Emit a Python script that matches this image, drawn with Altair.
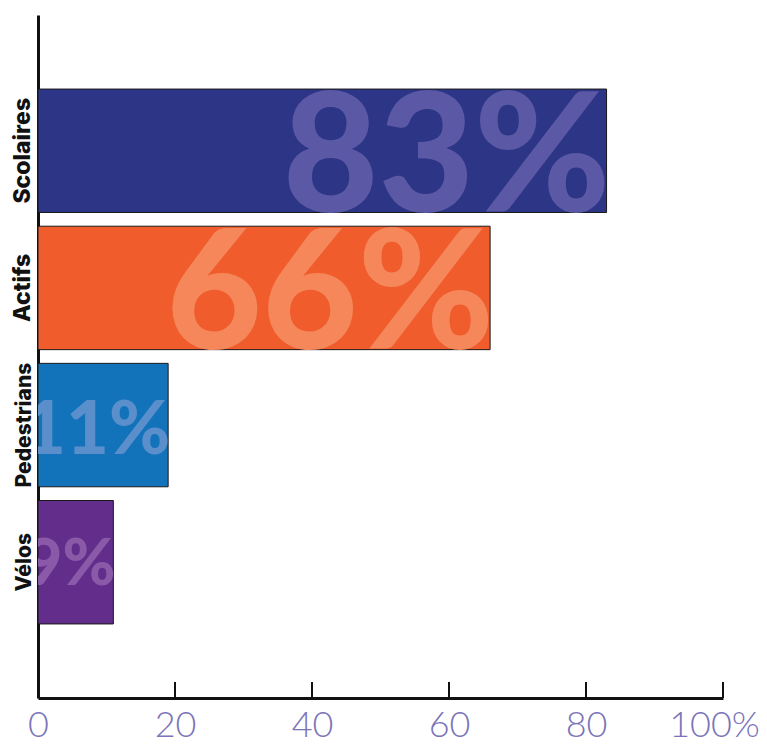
import altair as alt
import pandas as pd

categories = ["Scolaires", "Actifs", "Pedestrians", "Vélos"]
values = [83, 66, 19, 11]
labels = ["83%", "66%", "11%", "9%"]
colors = ["#2d3586", "#f05c2c", "#1273bb", "#632d8b"]
text_colors = ["#5b59a5", "#f5875a", "#5b8fcc", "#8a5aa8"]
ticks = [0, 20, 40, 60, 80, 100]

df = pd.DataFrame({"cat": categories, "v": values, "lab": labels})
tick_df = pd.DataFrame({"t": ticks[1:]})

W, H = 685, 683

x_scale = alt.Scale(domain=[0, 100], nice=False, zero=True)
y_scale = alt.Scale(domain=categories, paddingInner=0.1, paddingOuter=0.54)

bars = alt.Chart(df).mark_bar(stroke="#1a1a1a", strokeWidth=1).encode(
    x=alt.X("v:Q", scale=x_scale,
            axis=alt.Axis(values=ticks, title=None, grid=False, ticks=False,
                          domainColor="#111", domainWidth=3,
                          labelExpr="datum.value == 100 ? '100%' : datum.label",
                          labelFont="Lato", labelFontWeight=300, labelFontSize=36,
                          labelColor="#7b74b8", labelPadding=10, labelFlush=False,
                          labelOffset=alt.ExprRef(expr="datum.value == 100 ? -9 : 0"))),
    y=alt.Y("cat:N", scale=y_scale, sort=categories,
            axis=alt.Axis(title=None, ticks=False, domainColor="#111", domainWidth=3,
                          labelAngle=-90, labelAlign="center", labelBaseline="bottom",
                          labelFont="Inter", labelFontWeight=800, labelColor="#111",
                          labelFontSize=alt.ExprRef(expr="datum.value == 'Pedestrians' ? 21 : datum.value == 'Vélos' ? 21 : 23"),
                          labelPadding=4)),
    color=alt.Color("cat:N", scale=alt.Scale(domain=categories, range=colors), legend=None),
)

text = alt.Chart(df).mark_text(
    align="right", baseline="alphabetic", font="Lato", fontWeight=900,
    clip=True,
    dx=alt.ExprRef(expr="datum.v > 50 ? 4 : 2"),
    dy=alt.ExprRef(expr="datum.v > 50 ? 61 : datum.v > 15 ? 29 : 23"),
    fontSize=alt.ExprRef(expr="datum.v > 50 ? 165 : datum.v > 15 ? 74 : 64"),
).encode(
    x=alt.X("v:Q", scale=x_scale),
    y=alt.Y("cat:N", scale=y_scale, sort=categories),
    text="lab:N",
    color=alt.Color("cat:N", scale=alt.Scale(domain=categories, range=text_colors), legend=None),
)

tick_marks = alt.Chart(tick_df).mark_rule(color="#111", strokeWidth=2).encode(
    x=alt.X("t:Q", scale=x_scale),
    y=alt.value(H - 16),
    y2=alt.value(H),
)

chart = alt.layer(bars, text, tick_marks).resolve_scale(color="independent").properties(
    width=W, height=H,
    autosize="none",
    padding={"left": 30, "top": 7, "right": 36, "bottom": 48},
).configure_view(stroke=None)

chart.save("out.html", embed_options={"renderer": "svg", "actions": False})
